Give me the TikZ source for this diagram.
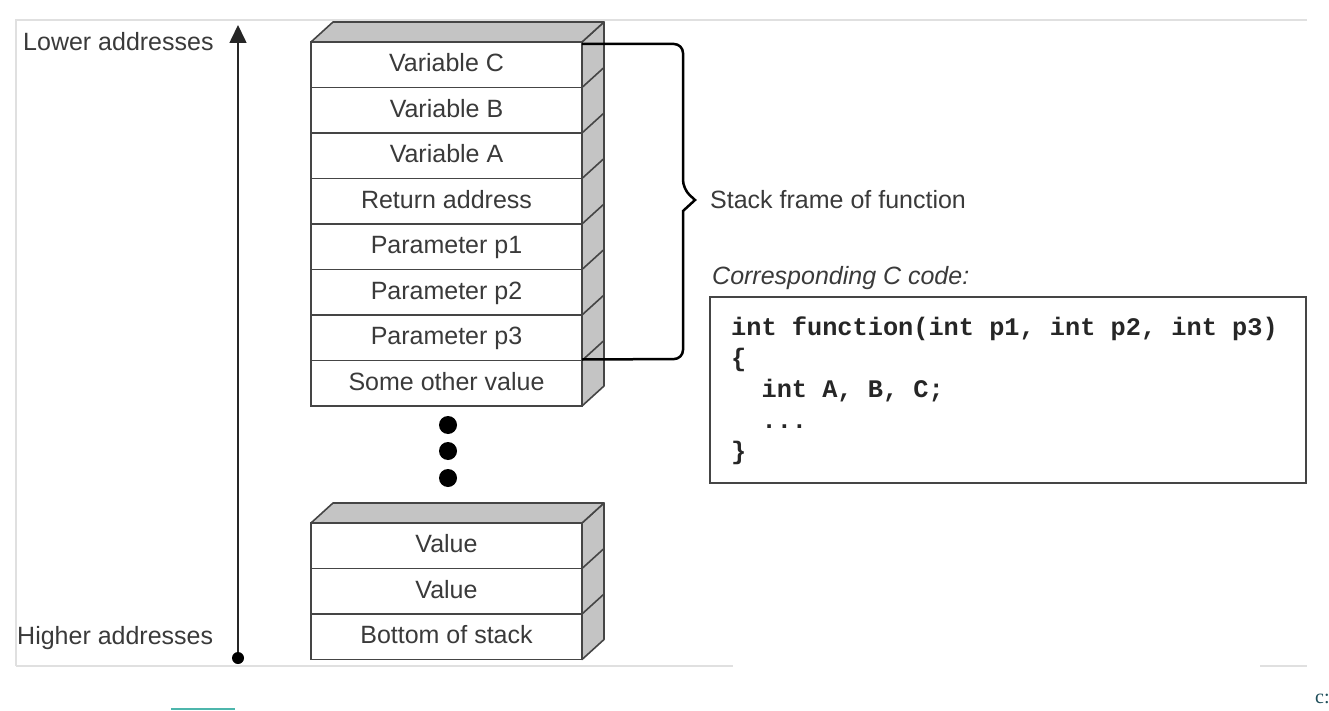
\documentclass[tikz,border=0pt]{standalone}
\usepackage{fontspec}
\setmainfont{Liberation Sans}
\newfontfamily\codefont{Liberation Mono}
\usetikzlibrary{arrows.meta}
\definecolor{txt}{HTML}{3A3A3A}
\definecolor{edge}{HTML}{454545}
\definecolor{sidegray}{HTML}{C4C4C4}
\definecolor{framegray}{HTML}{E0E0E0}
\definecolor{linkteal}{HTML}{4DB6AC}
\definecolor{darkteal}{HTML}{1F4E5A}
\begin{document}
\begin{tikzpicture}[x=1pt,y=-1pt,
  every node/.style={font=\fontsize{25}{30}\selectfont, text=txt},
  cell/.style={draw=edge, line width=1.6pt, fill=white, minimum width=271pt,
    minimum height=45.5pt, inner sep=0pt, outer sep=0pt, anchor=north west,
    text height=18pt, text depth=4pt},
  face/.style={draw=edge, line width=1.6pt, fill=sidegray, line join=round},
  seam/.style={draw=edge, line width=1.6pt},
  frameline/.style={draw=framegray, line width=2pt},
  bigdot/.style={fill=black},
  brace/.style={draw=black, line width=2.5pt},
  label/.style={anchor=west, inner sep=0pt},
  codebox/.style={draw=edge, line width=1.6pt, anchor=north west, minimum width=596pt,
    minimum height=186pt, inner sep=0pt, outer sep=0pt},
  codetext/.style={anchor=north west, inner sep=0pt, align=left,
    font=\codefont\bfseries\fontsize{25.3}{31}\selectfont, text=black!85}
]
\useasboundingbox (0,0) rectangle (1329,711);

% light frame
\draw[frameline] (16,666) -- (16,20) -- (1307,20);
\draw[frameline] (16,666) -- (733,666);
\draw[frameline] (1260,666) -- (1307,666);
\draw[draw=linkteal, line width=2pt] (171,709) -- (235,709);
\node[anchor=west, inner sep=0pt, text=darkteal, font=\fontspec{Liberation Serif}\fontsize{20}{24}\selectfont] (cut) at (1315,699) {c:};

% address axis
\coordinate (hi) at (238,658);
\coordinate (lo) at (238,25);
\draw[draw=black!85, line width=1.6pt, -{Triangle[length=18pt,width=17pt]}] (hi) -- (lo);
\fill[black] (hi) circle[radius=6pt];
\node[label] (lowlbl) at (23,42) {Lower addresses};
\node[label] (highlbl) at (17,638) {Higher addresses};

% upper stack
\node[cell] (r1) at (311,42) {Variable C};
\node[cell, anchor=north] (r2) at (r1.south) {Variable B};
\node[cell, anchor=north] (r3) at (r2.south) {Variable A};
\node[cell, anchor=north] (r4) at (r3.south) {Return address};
\node[cell, anchor=north] (r5) at (r4.south) {Parameter p1};
\node[cell, anchor=north] (r6) at (r5.south) {Parameter p2};
\node[cell, anchor=north] (r7) at (r6.south) {Parameter p3};
\node[cell, anchor=north] (r8) at (r7.south) {Some other value};
\draw[face] (r1.north east) -- ++(22,-20) -- ++(0,364) -- (r8.south east) -- cycle;
\draw[face] (r1.north west) -- ++(22,-20) -- ++(271,0) -- (r1.north east) -- cycle;
\foreach \n in {r1,r2,r3,r4,r5,r6,r7} \draw[seam] (\n.south east) -- ++(22,-20);

% dots
\fill[bigdot] (448,425) circle[radius=9pt];
\fill[bigdot] (448,451) circle[radius=9pt];
\fill[bigdot] (448,478) circle[radius=9pt];

% lower stack
\node[cell] (b1) at (311,523) {Value};
\node[cell, anchor=north] (b2) at (b1.south) {Value};
\node[cell, anchor=north] (b3) at (b2.south) {Bottom of stack};
\draw[face] (b1.north east) -- ++(22,-20) -- ++(0,136.5) -- (b3.south east) -- cycle;
\draw[face] (b1.north west) -- ++(22,-20) -- ++(271,0) -- (b1.north east) -- cycle;
\foreach \n in {b1,b2} \draw[seam] (\n.south east) -- ++(22,-20);

% brace
\coordinate (tip) at (695,200);
\draw[brace, rounded corners=9pt] ([yshift=-2pt]r1.north east) -- (683,44) -- (683,189)
  [sharp corners] -- (tip) -- (683,211) [rounded corners=9pt] -- (683,359) -- ([yshift=1pt]r7.south east);
\node[label] (frame) at (710,200) {Stack frame of function};

% code
\node[label, font=\itshape\fontsize{25}{30}\selectfont] (cc) at (712,278) {Corresponding C code:};
\node[codebox] (box) at (710,297) {};
\node[codetext] (code) at (731,317) {int function(int p1, int p2, int p3)\\
\{\\
~~int A, B, C;\\
~~...\\
\}};
\end{tikzpicture}
\end{document}
